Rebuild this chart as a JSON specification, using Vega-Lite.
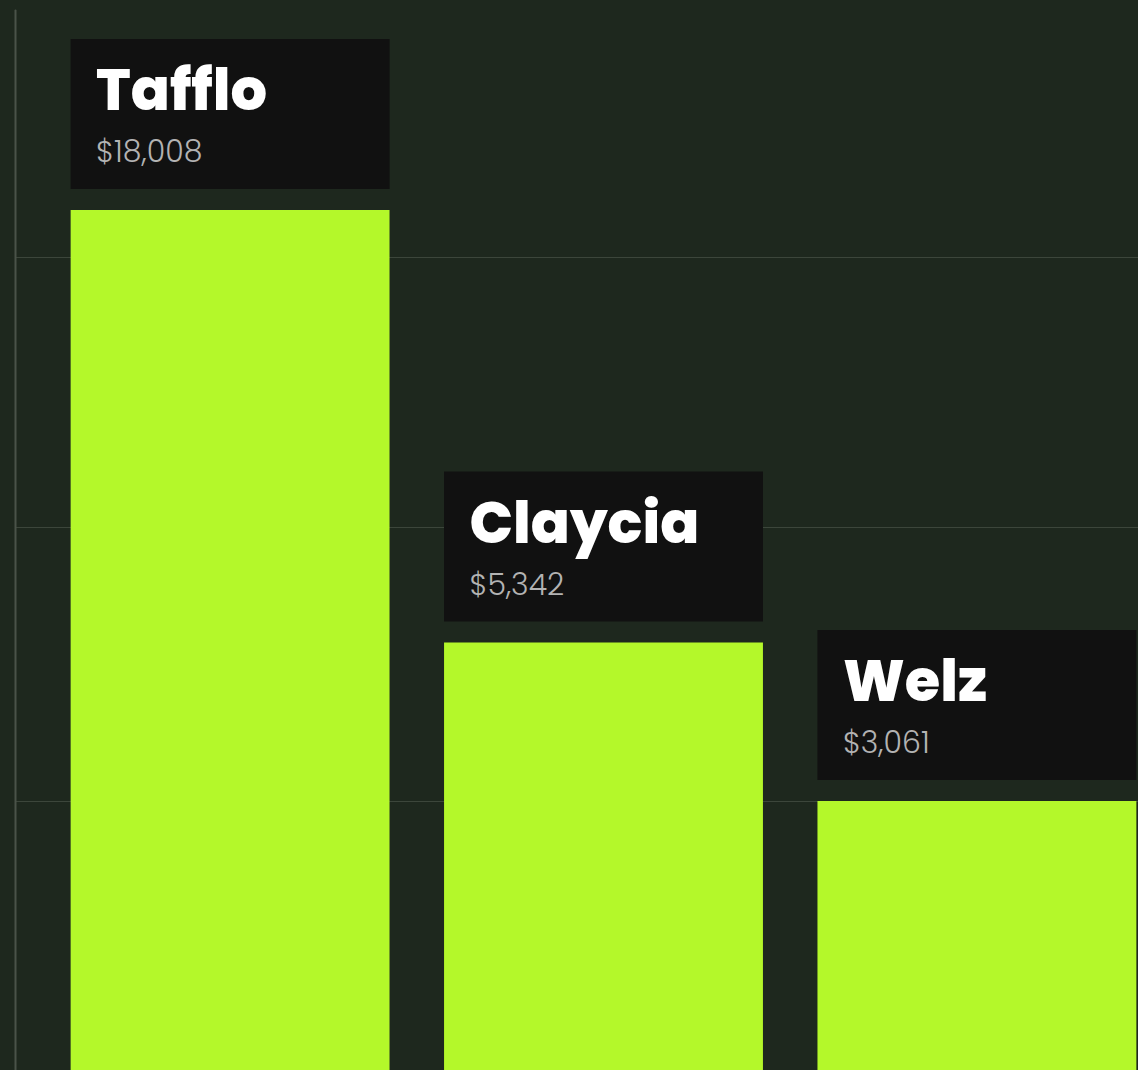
{
  "$schema": "https://vega.github.io/schema/vega-lite/v6.json",
  "width": 1123,
  "height": 1060,
  "autosize": "none",
  "padding": {"left": 15, "top": 10, "right": 0, "bottom": 0},
  "background": "#1e281e",
  "config": {"view": {"stroke": null}},
  "data": {
    "values": [
      {"brand": "Tafflo", "revenue": 18008},
      {"brand": "Claycia", "revenue": 5342},
      {"brand": "Welz", "revenue": 3061}
    ]
  },
  "encoding": {
    "x": {
      "field": "brand",
      "type": "nominal",
      "sort": null,
      "scale": {"range": [0, 1177], "paddingInner": 0.146, "paddingOuter": 0.149},
      "axis": null
    },
    "y": {
      "field": "revenue",
      "type": "quantitative",
      "scale": {"type": "pow", "exponent": 0.25, "domain": [0, 28447], "range": [1851.3, 0], "nice": false, "zero": true},
      "axis": {
        "values": [3061, 7670, 16055],
        "labels": false,
        "ticks": false,
        "title": null,
        "domainColor": "#4a5349",
        "domainWidth": 2,
        "domainCap": "round",
        "grid": true,
        "gridColor": "#3c463b",
        "gridWidth": 1.2
      }
    }
  },
  "layer": [
    {"mark": {"type": "bar", "color": "#b4f82a", "clip": true}},
    {
      "mark": {
        "type": "point",
        "shape": "M-1,-0.4702L1,-0.4702L1,0.4702L-1,0.4702Z",
        "size": 101761,
        "filled": true,
        "color": "#111111",
        "opacity": 1,
        "strokeWidth": 0,
        "yOffset": -96,
        "clip": true
      }
    },
    {
      "mark": {
        "type": "text",
        "align": "left",
        "baseline": "alphabetic",
        "dx": -134,
        "yOffset": -100,
        "font": "Poppins, Inter",
        "fontSize": 57.5,
        "fontWeight": 800,
        "color": "#ffffff",
        "clip": true
      },
      "encoding": {"text": {"field": "brand"}}
    },
    {
      "mark": {
        "type": "text",
        "align": "left",
        "baseline": "alphabetic",
        "dx": -134,
        "yOffset": -48,
        "font": "Poppins, Inter",
        "fontSize": 30,
        "fontWeight": 300,
        "color": "#b3b3b3",
        "clip": true
      },
      "encoding": {"text": {"field": "revenue", "type": "quantitative", "format": "$,.0f"}}
    }
  ]
}
